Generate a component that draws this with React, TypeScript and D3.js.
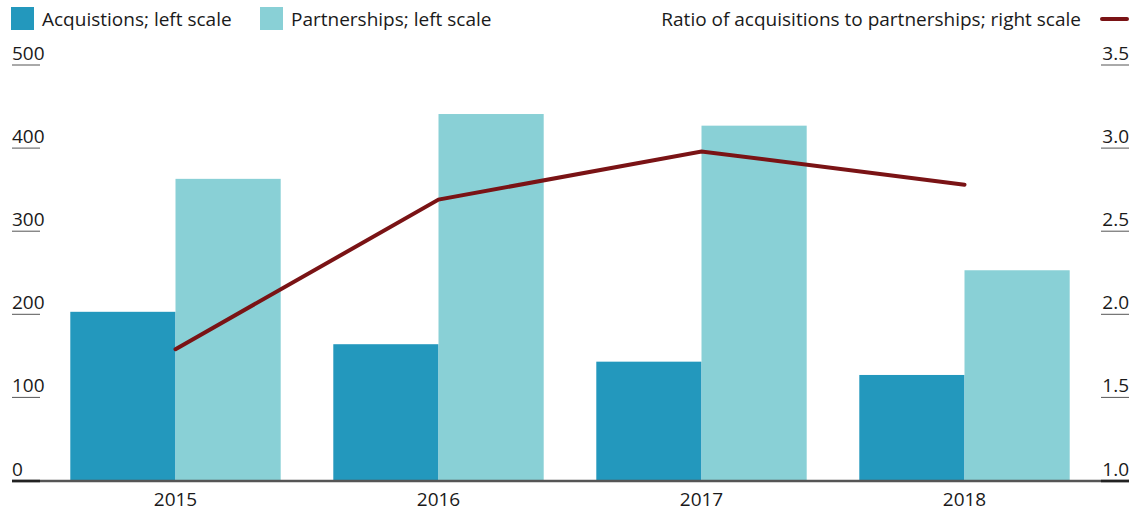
import React from "react";
import * as d3 from "d3";

const years = ["2015", "2016", "2017", "2018"];
const acquisitions = [203, 164, 143, 127];
const partnerships = [363, 441, 427, 253];
const ratio = [1.79, 2.69, 2.98, 2.78];
const leftTicks = [0, 100, 200, 300, 400, 500];
const rightTicks = [1.0, 1.5, 2.0, 2.5, 3.0, 3.5];
const seriesKeys = ["acq", "part"];

const W = 1145;
const H = 511;
const FONT = "'Open Sans', sans-serif";
const TEXT = "#1a1a1a";
const ACQ = "#2398bd";
const PART = "#89d0d6";
const LINE = "#7a1315";
const AXIS = "#555555";

export default function App() {
  const x = d3.scaleBand<string>().domain(years).range([44, 1096]).paddingInner(0.2).paddingOuter(0.1);
  const x1 = d3.scaleBand<string>().domain(seriesKeys).range([0, x.bandwidth()]);
  const yL = d3.scaleLinear().domain([0, 500]).range([480.5, 65]);
  const yR = d3.scaleLinear().domain([1, 3.5]).range([480.5, 65]);
  const line = d3
    .line<number>()
    .x((_, i) => (x(years[i]) as number) + x.bandwidth() / 2)
    .y((d) => yR(d));

  const fs = 19;
  return (
    <svg width={W} height={H} style={{ position: "absolute", left: 0, top: 0, background: "#fff" }} fontFamily={FONT}>
      {/* legend */}
      <rect x={11} y={7} width={23} height={23} fill={ACQ} />
      <text x={42} y={26} fontSize={fs} fill={TEXT}>Acquistions; left scale</text>
      <rect x={260} y={7} width={23} height={23} fill={PART} />
      <text x={291} y={26} fontSize={fs} fill={TEXT}>Partnerships; left scale</text>
      <text x={1081} y={26} fontSize={fs} fill={TEXT} textAnchor="end">Ratio of acquisitions to partnerships; right scale</text>
      <line x1={1102} x2={1127} y1={19} y2={19} stroke={LINE} strokeWidth={4} strokeLinecap="round" />

      {/* left ticks */}
      {leftTicks.map((t) => (
        <g key={"l" + t}>
          {t !== 0 && <line x1={12} x2={40} y1={yL(t)} y2={yL(t)} stroke={AXIS} strokeWidth={1} />}
          <text x={12} y={yL(t) - 5} fontSize={fs} fill={TEXT}>{t}</text>
        </g>
      ))}
      {rightTicks.map((t) => (
        <g key={"r" + t}>
          {t !== 1 && <line x1={1101} x2={1129} y1={yR(t)} y2={yR(t)} stroke={AXIS} strokeWidth={1} />}
          <text x={1129} y={yR(t) - 5} fontSize={fs} fill={TEXT} textAnchor="end">{t.toFixed(1)}</text>
        </g>
      ))}

      {/* bars */}
      {years.map((yr, i) => (
        <g key={yr} transform={`translate(${x(yr)},0)`}>
          <rect x={x1("acq")} y={yL(acquisitions[i])} width={x1.bandwidth()} height={yL(0) - yL(acquisitions[i])} fill={ACQ} />
          <rect x={x1("part")} y={yL(partnerships[i])} width={x1.bandwidth()} height={yL(0) - yL(partnerships[i])} fill={PART} />
        </g>
      ))}

      {/* baseline */}
      <line x1={12} x2={1129} y1={yL(0) + 0.5} y2={yL(0) + 0.5} stroke={AXIS} strokeWidth={2.5} />
      <line x1={12} x2={40} y1={yL(0) + 0.5} y2={yL(0) + 0.5} stroke="#222" strokeWidth={2.5} />
      <line x1={1101} x2={1129} y1={yL(0) + 0.5} y2={yL(0) + 0.5} stroke="#222" strokeWidth={2.5} />

      {/* ratio line */}
      <path d={line(ratio) || ""} fill="none" stroke={LINE} strokeWidth={4} strokeLinecap="round" strokeLinejoin="miter" />

      {/* x labels */}
      {years.map((yr) => (
        <text key={"x" + yr} x={(x(yr) as number) + x.bandwidth() / 2} y={506} fontSize={fs} fill={TEXT} textAnchor="middle">{yr}</text>
      ))}
    </svg>
  );
}
